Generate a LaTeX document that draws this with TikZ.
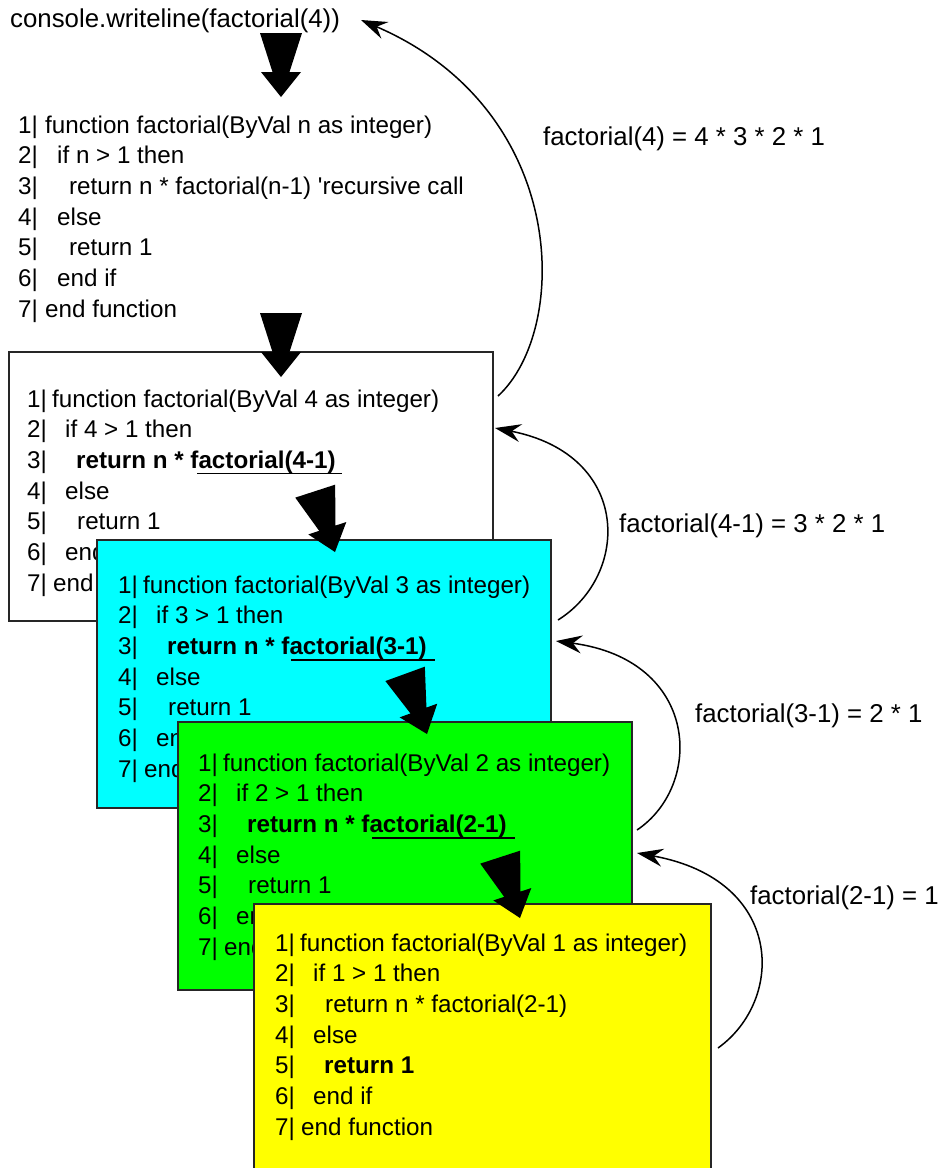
\documentclass[tikz,border=0pt]{standalone}
\usepackage{fontspec}
\setmainfont{Liberation Sans}
\usetikzlibrary{arrows.meta,calc}
\definecolor{cyanfill}{RGB}{0,255,255}
\definecolor{greenfill}{RGB}{0,255,0}
\definecolor{yellowfill}{RGB}{255,255,0}
\newcommand\cl[2]{\makebox[#1pt][l]{#2}}
\newcommand\bigarrow[2]{\fill[black,shift={(#1)},rotate=#2] (0,0) -- (-20,-25) -- (-8.5,-25) -- (-21,-64) -- (21,-64) -- (8.5,-25) -- (20,-25) -- cycle;}
\begin{document}
\begin{tikzpicture}[x=1pt,y=-1pt,
 codetxt/.style={inner sep=0pt, anchor=base west, font=\fontsize{24.2}{29}\selectfont},
 lbltxt/.style={inner sep=0pt, anchor=base west, font=\fontsize{25.8}{30}\selectfont},
 boxfr/.style={draw=black!85, line width=1.6pt, anchor=north west, inner sep=0pt, outer sep=0pt},
 retarrow/.style={line width=1.5pt, -{Stealth[length=26pt,width=18pt,inset=9pt]}},
 uline/.style={line width=1.8pt}
]
\useasboundingbox (0,0) rectangle (940,1168);
\clip (0,0) rectangle (940,1168);

% console line
\node[lbltxt] (console) at (10,27) {console.writeline(factorial(4))};

% top generic code
\foreach \t [count=\i] in {
 {\cl{27}{1|}function factorial(ByVal n as integer)},
 {\cl{39}{2|}if n > 1 then},
 {\cl{51}{3|}return n * factorial(n-1) \textquotesingle recursive call},
 {\cl{39}{4|}else},
 {\cl{51}{5|}return 1},
 {\cl{39}{6|}end if},
 {\cl{27}{7|}end function}}
 \node[codetxt] (a\i) at (18,{133+30.7*(\i-1)}) {\t};

% white box
\node[boxfr, fill=white, minimum width=484pt, minimum height=269pt] (b1) at (9,352) {};
\foreach \t [count=\i] in {
 {\cl{25}{1|}function factorial(ByVal 4 as integer)},
 {\cl{38}{2|}if 4 > 1 then},
 {\cl{49}{3|}\textbf{return n * factorial(4-1)}},
 {\cl{38}{4|}else},
 {\cl{50}{5|}return 1},
 {\cl{38}{6|}end},
 {\cl{26}{7|}end}}
 \node[codetxt] (w\i) at (27,{407+30.7*(\i-1)}) {\t};
\draw[uline] ($(w3.base west)+(170,5)$) -- ++(145,0);

% cyan box
\node[boxfr, fill=cyanfill, minimum width=454pt, minimum height=268pt] (b2) at (97,540) {};
\foreach \t [count=\i] in {
 {\cl{25}{1|}function factorial(ByVal 3 as integer)},
 {\cl{38}{2|}if 3 > 1 then},
 {\cl{49}{3|}\textbf{return n * factorial(3-1)}},
 {\cl{38}{4|}else},
 {\cl{50}{5|}return 1},
 {\cl{38}{6|}en},
 {\cl{26}{7|}end}}
 \node[codetxt] (c\i) at (118,{593+30.7*(\i-1)}) {\t};
\draw[uline] ($(c3.base west)+(173,5.5)$) -- ++(144,0);

% green box
\node[boxfr, fill=greenfill, minimum width=454pt, minimum height=268pt] (b3) at (178,722) {};
\foreach \t [count=\i] in {
 {\cl{25}{1|}function factorial(ByVal 2 as integer)},
 {\cl{38}{2|}if 2 > 1 then},
 {\cl{49}{3|}\textbf{return n * factorial(2-1)}},
 {\cl{38}{4|}else},
 {\cl{50}{5|}return 1},
 {\cl{38}{6|}en},
 {\cl{26}{7|}end}}
 \node[codetxt] (g\i) at (198,{771+30.7*(\i-1)}) {\t};
\draw[uline] ($(g3.base west)+(174,5.5)$) -- ++(143,0);

% yellow box
\node[boxfr, fill=yellowfill, minimum width=457pt, minimum height=280pt] (b4) at (254,904) {};
\foreach \t [count=\i] in {
 {\cl{25}{1|}function factorial(ByVal 1 as integer)},
 {\cl{38}{2|}if 1 > 1 then},
 {\cl{50}{3|}return n * factorial(2-1)},
 {\cl{38}{4|}else},
 {\cl{49}{5|}\textbf{return 1}},
 {\cl{38}{6|}end if},
 {\cl{26}{7|}end function}}
 \node[codetxt] (y\i) at (275,{951+30.7*(\i-1)}) {\t};

% block arrows
\coordinate (t1) at (281,97);
\coordinate (t2) at (281,377);
\coordinate (t3) at (335,552);
\coordinate (t4) at (427,734);
\coordinate (t5) at (520,918);
\bigarrow{t1}{0}
\bigarrow{t2}{0}
\bigarrow{t3}{18}
\bigarrow{t4}{20}
\bigarrow{t5}{18}

% return arrows
\coordinate (r1s) at (498,396);
\coordinate (r1e) at (361,20);
\coordinate (r2s) at (558,620);
\coordinate (r2e) at (495,428);
\coordinate (r3s) at (637,830);
\coordinate (r3e) at (556,641);
\coordinate (r4s) at (718,1048);
\coordinate (r4e) at (637,853);
\draw[retarrow] (r1s) .. controls (570,330) and (570,110) .. (r1e);
\draw[retarrow] (r2s) .. controls (630,575) and (632,455) .. (r2e);
\draw[retarrow] (r3s) .. controls (704,785) and (700,660) .. (r3e);
\draw[retarrow] (r4s) .. controls (785,1000) and (785,880) .. (r4e);

% labels
\node[lbltxt] (l1) at (543,145) {factorial(4) = 4 * 3 * 2 * 1};
\node[lbltxt] (l2) at (619,532) {factorial(4-1) = 3 * 2 * 1};
\node[lbltxt] (l3) at (695,722) {factorial(3-1) = 2 * 1};
\node[lbltxt] (l4) at (750,904) {factorial(2-1) = 1};
\end{tikzpicture}
\end{document}
